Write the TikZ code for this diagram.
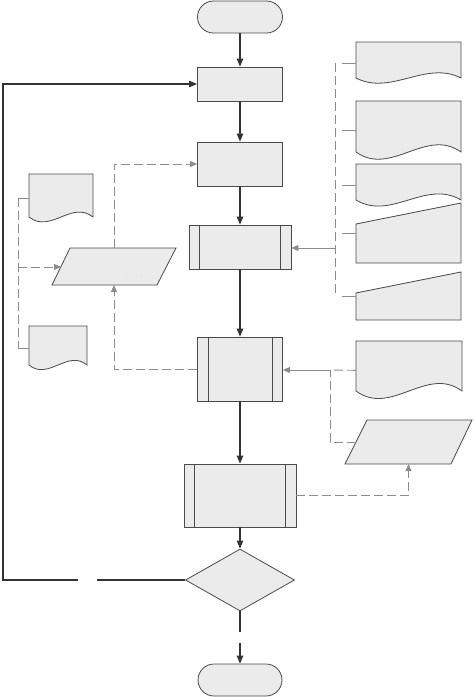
\documentclass[tikz,border=0pt]{standalone}
\usepackage{tikz}
\usetikzlibrary{shapes.geometric, arrows.meta}

\definecolor{shapefill}{HTML}{EBEBEB}
\definecolor{shapeline}{HTML}{4A4A4A}
\definecolor{flowline}{HTML}{333333}
\definecolor{dataline}{HTML}{8C8C8C}

% document symbol: name, left, top, right, base, wave
\newcommand{\docshape}[6]{%
  \draw[flowshape] (#2,#5) -- (#2,#3) -- (#4,#3) -- (#4,#5)
    .. controls ({#4-(#4-#2)/3},{#5-#6}) and ({#2+(#4-#2)/3},{#5+#6}) .. cycle;
  \node[anchorbox, minimum width={#4-#2}, minimum height={#5-#3+#6/3}]
    (#1) at ({(#2+#4)/2},{(#3+#5+#6/3)/2}) {};
}
% manual input symbol: name, left, top left, right, top right, bottom
\newcommand{\manshape}[6]{%
  \draw[flowshape] (#2,#3) -- (#4,#5) -- (#4,#6) -- (#2,#6) -- cycle;
  \node[anchorbox, minimum width={#4-#2}, minimum height={#6-#5}]
    (#1) at ({(#2+#4)/2},{(#5+#6)/2}) {};
}

\begin{document}
\begin{tikzpicture}[
    x=1pt, y=-1pt,
    flowshape/.style={draw=shapeline, fill=shapefill, line width=0.8pt},
    terminal/.style={flowshape, rounded corners=16pt, minimum width=85pt,
        minimum height=32pt, inner sep=0pt},
    process/.style={flowshape, minimum width=85pt, inner sep=0pt},
    predef/.style={flowshape, inner sep=0pt},
    decision/.style={flowshape, diamond, aspect=1.76, minimum width=109pt,
        minimum height=62pt, inner sep=0pt},
    anchorbox/.style={inner sep=0pt, outer sep=0pt, draw=none},
    flow/.style={draw=flowline, line width=1.1pt, -{Triangle[length=8pt,width=6.5pt]}},
    flowplain/.style={draw=flowline, line width=1.1pt},
    stub/.style={draw=dataline, line width=0.9pt},
    link/.style={stub, -{Triangle[length=7pt,width=6pt]}},
    data/.style={stub, dash pattern=on 9pt off 4pt},
    dataarrow/.style={data, -{Triangle[length=7pt,width=6pt]}}
]
\useasboundingbox (0,0) rectangle (474,697);

\node[terminal] (start) at (240,17) {};
\node[process, minimum height=34pt] (init) at (240,84) {};
\node[process, minimum height=44pt] (prep) at (240,164) {};
\node[predef, minimum width=102pt, minimum height=44pt] (calc) at (240,247) {};
\node[predef, minimum width=85pt, minimum height=64pt] (eval) at (240,369) {};
\node[predef, minimum width=112pt, minimum height=63pt] (out) at (240,495.5) {};
\node[decision] (check) at (240,580) {};
\node[terminal, minimum width=84pt] (stop) at (240,680) {};

\foreach \n in {calc, eval, out}{
  \draw[shapeline, line width=0.8pt] ([xshift=11pt]\n.north west) -- ([xshift=11pt]\n.south west);
  \draw[shapeline, line width=0.8pt] ([xshift=-11pt]\n.north east) -- ([xshift=-11pt]\n.south east);
}

\draw[flow] (start) -- (init);
\draw[flow] (init) -- (prep);
\draw[flow] (prep) -- (calc);
\draw[flow] (calc) -- (eval);
\draw[flow] (eval) -- (out);
\draw[flow] (out) -- (check);

\coordinate (yes-a) at (240,632);
\coordinate (yes-b) at (240,643);
\draw[flowplain] (check) -- (yes-a);
\draw[flow] (yes-b) -- (stop);

\coordinate (no-a) at (97,580);
\coordinate (no-b) at (78,580);
\coordinate (loop) at (3,580);
\draw[flowplain] (check) -- (no-a);
\draw[flow] (no-b) -- (loop) |- (init);

% left inputs
\docshape{ldoc1}{29}{174}{93}{217}{17}
\docshape{ldoc2}{29}{326}{87}{365}{16}
\draw[flowshape] (70,248) -- (176,248) -- (157,285) -- (52,285) -- cycle;
\node[anchorbox, minimum width=124pt, minimum height=37pt] (lpar) at (114,266.5) {};
\node[font=\fontsize{5pt}{5pt}\selectfont, text=black!40] (lpar-note) at (134,276) {. . . .};
\coordinate (lpar-in) at (61,267);

\draw[stub] (ldoc1.west) -- ++(-11,0) coordinate (lbus-top);
\draw[stub] (ldoc2.west) -- ++(-11,0) coordinate (lbus-bot);
\draw[data] (lbus-top) -- (lbus-bot);
\draw[dataarrow] (lbus-top |- lpar-in) -- (lpar-in);
\draw[dataarrow] (lpar.north) |- (prep.west);
\draw[dataarrow] (eval.west) -| (lpar.south);

% right inputs
\docshape{rdoc1}{356}{42}{461}{78}{18}
\docshape{rdoc2}{356}{101}{461}{152}{25}
\docshape{rdoc3}{356}{164}{461}{200}{21}
\manshape{rman1}{356}{224}{461}{203}{263}
\manshape{rman2}{356}{293}{461}{272}{320}

\coordinate (rbus) at (335,248);
\foreach \n in {rdoc1, rdoc2, rdoc3, rman1, rman2}
  \draw[stub] (\n.west) -- ++(-14,0);
\draw[data] (rdoc1.west -| rbus) -- (rman2.west -| rbus);
\draw[link] (rbus) -- (rbus -| calc.east);

% lower right
\docshape{rdoc6}{356}{341}{462}{391}{26}
\draw[flowshape] (367,420) -- (472,420) -- (451,464) -- (345,464) -- cycle;
\node[anchorbox, minimum width=127pt, minimum height=44pt] (rpar) at (408.5,442) {};
\coordinate (rpar-in) at (356,442);
\coordinate (rjoin) at (330,370);

\draw[data] (rdoc6.west) -- (rjoin);
\draw[data] (rpar-in) -| (rjoin);
\draw[link] (rjoin) -- (rjoin -| eval.east);
\draw[dataarrow] (out.east) -| (rpar.south);

\end{tikzpicture}
\end{document}
